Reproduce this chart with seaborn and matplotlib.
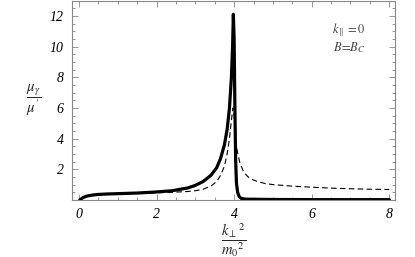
import matplotlib
matplotlib.use("Agg")
import matplotlib.pyplot as plt
import seaborn as sns
import pandas as pd
from matplotlib.ticker import MultipleLocator

# Solid curve (thick)
solid_x = [0.02, 0.1, 0.2, 0.35, 0.5, 0.75, 1.0, 1.5, 2.0, 2.4, 2.8, 3.0, 3.2, 3.4,
           3.55, 3.65, 3.75, 3.82, 3.88, 3.93, 3.96, 3.98, 4.0, 4.02, 4.04, 4.06,
           4.09, 4.13, 4.18, 4.3, 5.0, 6.0, 8.0]
solid_y = [0.0, 0.15, 0.25, 0.32, 0.36, 0.39, 0.41, 0.45, 0.52, 0.6, 0.78, 0.95, 1.2, 1.6,
           2.1, 2.7, 3.6, 4.6, 6.0, 8.0, 10.0, 12.1, 10.5, 6.0, 2.5, 1.1,
           0.5, 0.22, 0.1, 0.05, 0.03, 0.02, 0.02]

# Dashed curve (thin)
dash_x = [0.02, 0.1, 0.2, 0.35, 0.5, 0.75, 1.0, 1.5, 2.0, 2.4, 2.8, 3.0, 3.2, 3.4,
          3.55, 3.65, 3.75, 3.82, 3.88, 3.93, 3.97, 4.0, 4.03, 4.08, 4.15, 4.25,
          4.4, 4.6, 4.8, 5.0, 5.5, 6.0, 6.5, 7.0, 7.5, 8.0]
dash_y = [0.0, 0.15, 0.25, 0.32, 0.36, 0.39, 0.41, 0.44, 0.47, 0.5, 0.55, 0.6, 0.7, 0.9,
          1.2, 1.6, 2.2, 3.0, 4.0, 5.2, 6.0, 5.5, 4.2, 3.2, 2.4, 1.8,
          1.4, 1.2, 1.07, 1.0, 0.9, 0.83, 0.77, 0.73, 0.7, 0.68]

x_ticks = [0, 2, 4, 6, 8]
y_ticks = [2, 4, 6, 8, 10, 12]

sns.set_style("ticks")
plt.rcParams["font.family"] = ["Liberation Serif", "DejaVu Serif"]
plt.rcParams["mathtext.fontset"] = "stix"

fig = plt.figure(figsize=(4.15, 2.57), dpi=100)
ax = fig.add_axes([0.1735, 0.222, 0.7785, 0.776])

df_s = pd.DataFrame({"x": solid_x, "y": solid_y})
df_d = pd.DataFrame({"x": dash_x, "y": dash_y})
sns.lineplot(data=df_d, x="x", y="y", ax=ax, color="black", lw=0.8,
             linestyle=(0, (5, 3)), sort=False)
sns.lineplot(data=df_s, x="x", y="y", ax=ax, color="black", lw=2.3, sort=False)

ax.set_xlim(-0.18, 8.15)
ax.set_ylim(0, 13)
ax.set_xticks(x_ticks)
ax.set_yticks(y_ticks)
ax.set_xticklabels([str(t) for t in x_ticks], fontstyle="italic", fontsize=10)
ax.set_yticklabels([str(t) for t in y_ticks], fontstyle="italic", fontsize=10)
ax.xaxis.set_minor_locator(MultipleLocator(0.5))
ax.yaxis.set_minor_locator(MultipleLocator(0.5))
ax.tick_params(which="both", direction="in", top=True, right=True, colors="#888888",
               labelcolor="black", width=0.6)
ax.tick_params(which="major", length=4, pad=6)
ax.tick_params(which="minor", length=2)
for s in ax.spines.values():
    s.set_color("#888888")
    s.set_linewidth(0.8)

ax.set_xlabel("")
ax.set_ylabel("")
fig.text(0.08, 0.611, r"$\dfrac{\mu_\gamma}{\mu^{\prime}}$", fontsize=10.5, ha="center", va="center")
fig.text(0.562, 0.068, r"$\dfrac{k_\perp{}^2}{m_0{}^2}$", fontsize=10.5, ha="center", va="center")

ax.text(0.857, 0.85, r"$k_{\parallel}=0$", transform=ax.transAxes, fontsize=9,
        ha="center", va="center", color="#444444")
ax.text(0.857, 0.764, r"$B\!=\!B_C$", transform=ax.transAxes, fontsize=9,
        ha="center", va="center", color="#444444")

fig.savefig("out.png", dpi=100)
